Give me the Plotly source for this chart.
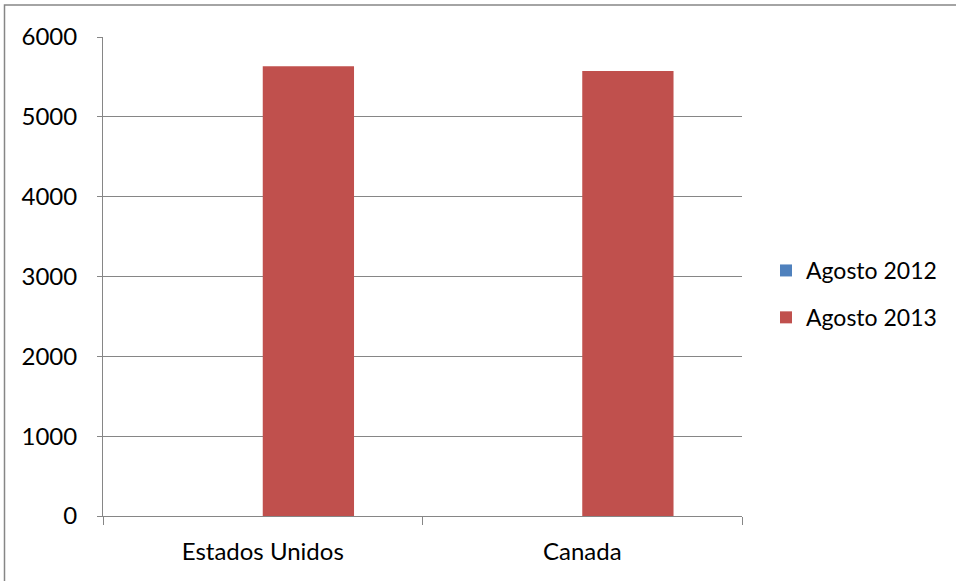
import plotly.graph_objects as go

categories = ["Estados Unidos", "Canada"]
agosto_2012 = [0, 0]
agosto_2013 = [5635, 5575]
y_ticks = [0, 1000, 2000, 3000, 4000, 5000, 6000]

W, H = 956, 581
L, R, T, B = 103, 214, 37, 65
pw, ph = W - L - R, H - T - B

font = dict(family="Lato, Open Sans, sans-serif", size=24, color="#000000")
grid = "#868686"

fig = go.Figure()
fig.add_trace(go.Bar(x=categories, y=agosto_2012, name="Agosto 2012",
                     marker=dict(color="#4F81BD", line=dict(width=0)),
                     legendgroup="a"))
fig.add_trace(go.Bar(x=categories, y=agosto_2013, name="Agosto 2013",
                     marker=dict(color="#C0504D", line=dict(width=0)),
                     legendgroup="b"))

fig.update_layout(
    width=W, height=H,
    margin=dict(l=L, r=R, t=T, b=B),
    paper_bgcolor="white", plot_bgcolor="white",
    barmode="group", bargap=0.4286, bargroupgap=0,
    font=font,
    legend=dict(x=(766 - L) / pw, xanchor="left", y=(516 - 294) / ph, yanchor="middle",
                font=dict(size=23), tracegroupgap=14, bgcolor="rgba(0,0,0,0)"),
    xaxis=dict(showline=True, linecolor=grid, linewidth=1, ticks="outside",
               tickson="boundaries", ticklen=8, tickcolor=grid, showgrid=False,
               tickfont=font, ticklabelstandoff=14),
    yaxis=dict(range=[0, 6000], tickvals=y_ticks, showline=True, linecolor=grid,
               linewidth=1, ticks="outside", ticklen=5, tickcolor=grid,
               showgrid=True, gridcolor=grid, gridwidth=1, zeroline=False,
               tickfont=font, ticklabelstandoff=15),
    shapes=[dict(type="rect", xref="paper", yref="paper",
                 x0=(4.5 - L) / pw, x1=(W + 10 - L) / pw,
                 y0=(H - B - (H + 10)) / ph, y1=(H - B - 5.0) / ph,
                 line=dict(color="#868686", width=1.5), fillcolor="rgba(0,0,0,0)")],
)

fig.write_html("out.html", config={"displayModeBar": False},
               post_script="document.body.style.margin='0';document.body.style.overflow='hidden';")
